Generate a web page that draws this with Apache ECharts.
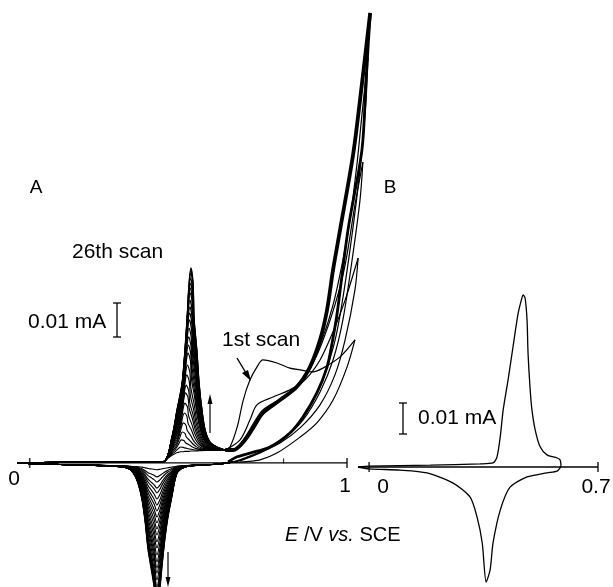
<!DOCTYPE html>
<html><head><meta charset="utf-8">
<script src="https://cdn.jsdelivr.net/npm/echarts@6/dist/echarts.min.js"></script>
<style>html,body{margin:0;padding:0;background:#fff}#c{width:613px;height:587px}</style>
</head><body><div id="c"></div>
<script>
// ---------- Panel A: per-scan peak values (µA) ----------
const scanNumbers = [1,2,3,4,5,6,7,8,9,10,11,12,13,14,15,16,17,18,19,20,21,22,23,24,25,26];
const anodicApexI = [3.3,4.7,6.8,9.1,11.8,14.7,17.6,20.6,22.9,25.9,28.8,32.4,34.7,37.1,39.7,42.1,44.1,45.9,47.9,50.0,51.5,52.9,54.4,55.9,56.8,57.4];
const anodicApexE = [0.475,0.475,0.478,0.481,0.484,0.487,0.489,0.491,0.493,0.495,0.497,0.499,0.500,0.501,0.502,0.503,0.504,0.505,0.505,0.506,0.506,0.507,0.507,0.508,0.508,0.508];
const cathodicApexI = [-2.0,-4.1,-5.6,-7.4,-8.8,-10.6,-12.4,-14.1,-15.9,-17.6,-19.4,-21.2,-23.2,-25.0,-27.1,-29.1,-30.9,-32.4,-34.4,-36.5,-37.9,-39.1,-40.3,-41.2,-42.1,-42.9];

// 26th-scan anodic peak outline and the no-peak tail under it
const anodicShapeE = [0.420,0.448,0.464,0.480,0.489,0.496,0.502,0.508,0.515,0.518,0.527,0.534,0.543,0.553,0.568,0.590,0.616];
const anodicShapeI = [0.3,7.6,15.6,23.5,33.2,42.9,52.9,57.4,52.9,42.9,33.2,23.5,15.6,9.7,6.2,4.7,3.8];
const anodicTailI  = [0.3,1.5,2.2,2.7,3.0,3.1,3.2,3.3,3.3,3.4,3.4,3.5,3.5,3.6,3.7,3.7,3.8];
// 26th-scan cathodic peak outline (reverse sweep) and background
const cathShapeE = [0.640,0.600,0.537,0.490,0.467,0.458,0.448,0.436,0.426,0.417,0.411,0.401,0.392,0.385,0.373,0.364,0.354,0.341,0.326,0.307,0.253,0.159,0.032,-0.04];
const cathShapeI = [0.3,-0.3,-0.6,-1.2,-2.6,-5.0,-10.0,-15.9,-22.6,-30.6,-36.5,-42.9,-36.5,-32.4,-25.6,-17.6,-10.9,-5.9,-2.9,-1.5,-0.9,-0.6,-0.3,0];
const cathBaseI  = [0.3,-0.3,-0.6,-0.8,-0.9,-1.0,-1.0,-1.1,-1.1,-1.1,-1.1,-1.1,-1.1,-1.1,-1.1,-1.1,-1.0,-1.0,-1.0,-0.9,-0.8,-0.6,-0.3,0];
const baselineE = [-0.04,0.10,0.30];
const baselineI = [0,0.2,0.3];

// high-potential oxidation branches
const s1FwdE = [0.616,0.631,0.654,0.673,0.694,0.716,0.735,0.779,0.820,0.852,0.893,0.924,0.978,1.025];
const s1FwdI = [3.8,4.7,10.6,18.5,24.4,28.2,30.3,29.4,27.9,27.4,26.8,27.9,31.2,36.2];
const s1RevE = [1.025,1.000,0.956,0.905,0.852,0.779,0.726,0.680,0.640];
const s1RevI = [36.2,28.2,18.5,11.8,7.6,2.9,0.9,0.4,0.2];
const s2FwdE = [0.616,0.663,0.694,0.716,0.767,0.820,0.867,0.915,0.960,0.994,1.035];
const s2FwdI = [3.8,6.8,12.6,17.1,19.4,21.5,24.4,30.3,39.5,47.9,60.3];
const s2RevE = [1.035,1.025,0.994,0.962,0.915,0.852,0.789,0.710,0.647];
const s2RevI = [60.3,50.9,36.2,25.9,17.1,10.3,5.9,2.4,0.3];
const s3FwdE = [0.616,0.641,0.679,0.710,0.735,0.789,0.842,0.883,0.921,0.962,0.994,1.025,1.050];
const s3FwdI = [3.8,3.8,7.6,12.4,15.6,18.8,22.4,27.6,35.3,46.5,58.2,75.9,88.5];
const s3RevE = [1.050,1.041,1.016,0.987,0.956,0.915,0.861,0.804,0.732,0.663];
const s3RevI = [88.5,77.4,59.7,42.1,30.3,20.9,12.6,7.4,3.2,0.6];
const s4FwdE = [0.616,0.641,0.679,0.710,0.735,0.789,0.842,0.883,0.921,0.956,0.987,1.009,1.031,1.047,1.066];
const s4FwdI = [3.8,3.8,6.8,11.2,14.7,18.5,22.4,28.2,36.2,46.5,59.7,71.5,87.6,102.4,119.4];
const s4RevE = [1.066,1.060,1.044,1.022,0.991,0.966,0.940,0.908,0.861,0.814,0.751,0.679,0.631];
const s4RevI = [119.4,106.8,89.1,71.5,50.9,37.6,28.8,20.9,13.2,8.2,4.4,1.5,0];
const bundleFwdE = [0.616,0.641,0.679,0.710,0.735,0.789,0.842,0.883,0.915,0.937,0.956,0.978,1.019,1.041,1.073];
const bundleFwdI = [3.8,3.8,6.8,11.2,14.7,18.5,22.4,28.2,36.2,45.0,56.8,68.5,90.6,106.8,132.4];
const bundleRevE = [1.073,1.060,1.047,1.003,0.969,0.953,0.937,0.905,0.861,0.820,0.757,0.694,0.654,0.625];
const bundleRevI = [132.4,112.6,92.1,68.5,44.1,35.3,28.2,20.6,13.5,8.8,4.7,2.9,1.8,0.3];

// ---------- Panel B ----------
const bFwdE = [-0.034,0,0.187,0.339,0.379,0.391,0.401,0.410,0.425,0.440,0.456,0.468,0.471,0.477,0.483,0.486,0.492,0.498,0.508,0.523,0.544,0.575,0.584,0.587];
const bFwdI = [0,0.3,0.6,1.0,1.3,3.2,9.7,18.4,28.1,38.7,49.7,54.8,55.5,54.5,47.4,36.8,25.8,18.4,11.9,6.5,3.9,2.9,2.3,0.6];
const bRevE = [0.587,0.584,0.575,0.544,0.483,0.431,0.401,0.379,0.370,0.358,0.346,0.330,0.309,0.257,0.177,0.095,0,-0.034];
const bRevI = [0.6,-0.3,-1.3,-1.9,-3.2,-6.5,-13.9,-24.5,-33.2,-37.1,-24.5,-16.1,-9.7,-5.2,-1.9,-1.0,-0.6,0];

// axis extents and tick marks (E / V)
const axisA = [-0.04, 1];
const axisB = [-0.034, 0.7];
const ticksA = [0, 1];
const minorTicksA = [0.8];
const ticksB = [0, 0.7];

const FONT = '"Liberation Sans", Arial, Helvetica, sans-serif';
const pairs = (E, I) => E.map((e, i) => [e, I[i]]);
const series = [];
function line(data, grid, width, smooth) {
  series.push({
    type: 'line', data, xAxisIndex: grid, yAxisIndex: grid,
    symbol: 'none', showSymbol: false, clip: false, silent: true, animation: false,
    smooth: smooth === undefined ? 0.3 : smooth,
    lineStyle: { color: '#000', width: width || 1 }
  });
}

// axis lines (drawn as data lines at zero current)
line(axisA.map(v => [v, 0]), 0, 1.3, false);
line(axisB.map(v => [v, 0]), 1, 1.3, false);

// thick bundle of later scans
line(pairs(bundleFwdE, bundleFwdI), 0, 3.8);
line(pairs(bundleRevE, bundleRevI), 0, 2.8);
// early scans individually
[[s1FwdE,s1FwdI,s1RevE,s1RevI],[s2FwdE,s2FwdI,s2RevE,s2RevI],[s3FwdE,s3FwdI,s3RevE,s3RevI],[s4FwdE,s4FwdI,s4RevE,s4RevI]]
  .forEach(s => { line(pairs(s[0], s[1]), 0, 1.2); line(pairs(s[2], s[3]), 0, 1.2); });

// every scan: anodic peak on forward sweep, cathodic peak on reverse sweep
const iA = 7, e0 = anodicShapeE[0], eA = anodicShapeE[iA], eEnd = anodicShapeE[anodicShapeE.length - 1];
const iC = 11;
scanNumbers.forEach((n, s) => {
  const a = anodicApexE[s];
  const k = (anodicApexI[s] - anodicTailI[iA]) / (anodicShapeI[iA] - anodicTailI[iA]);
  const fwd = pairs(baselineE, baselineI);
  anodicShapeE.forEach((e, i) => {
    let ee = a;
    if (i < iA) ee = e0 + (e - e0) * (a - e0) / (eA - e0);
    else if (i > iA) ee = a + (e - eA) * (eEnd - a) / (eEnd - eA);
    fwd.push([ee, anodicTailI[i] + (anodicShapeI[i] - anodicTailI[i]) * k]);
  });
  line(fwd, 0, 1.15);
  const kc = (cathodicApexI[s] - cathBaseI[iC]) / (cathShapeI[iC] - cathBaseI[iC]);
  const rev = cathShapeE.map((e, i) => [e, cathBaseI[i] + (cathShapeI[i] - cathBaseI[i]) * kc]);
  line(rev, 0, 1.15);
});

// panel B
line(pairs(bFwdE, bFwdI), 1, 1.3, 0.25);
line(pairs(bRevE, bRevI), 1, 1.3, 0.25);

// tick marks
function ticks(vals, grid, size, offset) {
  series.push({ type: 'scatter', xAxisIndex: grid, yAxisIndex: grid, silent: true, animation: false,
    data: vals.map(v => [v, 0]), symbol: 'rect', symbolSize: size, symbolOffset: offset || [0, 0],
    itemStyle: { color: '#000' }, z: 5 });
}
ticks(ticksA, 0, [1.6, 10]);
ticks(minorTicksA, 0, [1.2, 5], [0, -2]);
ticks(ticksB, 1, [1.6, 10]);

function txt(t, x, y, size, align, rich) {
  return { type: 'text', x, y, z: 10, silent: true,
    style: { text: t, fill: '#000', font: size + 'px ' + FONT, align: align || 'left', verticalAlign: 'middle', rich: rich } };
}
function seg(x1, y1, x2, y2, w) {
  return { type: 'line', z: 10, silent: true, shape: { x1, y1, x2, y2 }, style: { stroke: '#000', lineWidth: w || 1.3 } };
}
function head(pts) {
  return { type: 'polygon', z: 10, silent: true, shape: { points: pts }, style: { fill: '#000' } };
}

const hidden = { type: 'value', show: false, splitLine: { show: false } };
const option = {
  animation: false,
  backgroundColor: '#fff',
  grid: [
    { left: 17, top: 0, width: 355.4, height: 587 },
    { left: 358, top: 0, width: 240, height: 587 }
  ],
  xAxis: [
    Object.assign({ gridIndex: 0, min: -0.04, max: 1.08 }, hidden),
    Object.assign({ gridIndex: 1, min: -0.034, max: 0.7 }, hidden)
  ],
  yAxis: [
    Object.assign({ gridIndex: 0, min: -36.5, max: 136.2 }, hidden),
    Object.assign({ gridIndex: 1, min: -38.7, max: 150.6 }, hidden)
  ],
  series,
  graphic: [
    txt('A', 36, 188, 19, 'center'),
    txt('B', 390, 188, 19, 'center'),
    txt('26th scan', 72, 252, 21),
    txt('0.01 mA', 28, 322, 21),
    txt('1st scan', 222, 340, 21),
    txt('0', 14, 479, 21, 'center'),
    txt('1', 345, 486, 21, 'center'),
    txt('0', 383, 487, 21, 'center'),
    txt('0.7', 596, 487, 21, 'center'),
    txt('0.01 mA', 418, 418, 21),
    txt('{i|E} /V {i|vs.} SCE', 285, 535, 20, 'left', { i: { fontStyle: 'italic', fontSize: 20, fontFamily: FONT } }),
    // scale bars
    seg(117, 303, 117, 337), seg(113, 303, 121, 303), seg(113, 337, 121, 337),
    seg(403, 403, 403, 434), seg(399, 403, 407, 403), seg(399, 434, 407, 434),
    // arrow to 1st scan
    seg(237, 358, 246, 373, 1.4), head([[251, 381], [242, 373], [248, 370]]),
    // up arrow
    seg(210, 433, 210, 402, 1.2), head([[210, 394], [207.5, 404], [212.5, 404]]),
    // down arrow
    seg(168, 552, 168, 578, 1.2), head([[168, 587], [165.5, 577], [170.5, 577]])
  ]
};
const chart = echarts.init(document.getElementById('c'));
chart.setOption(option);
</script>
</body></html>
